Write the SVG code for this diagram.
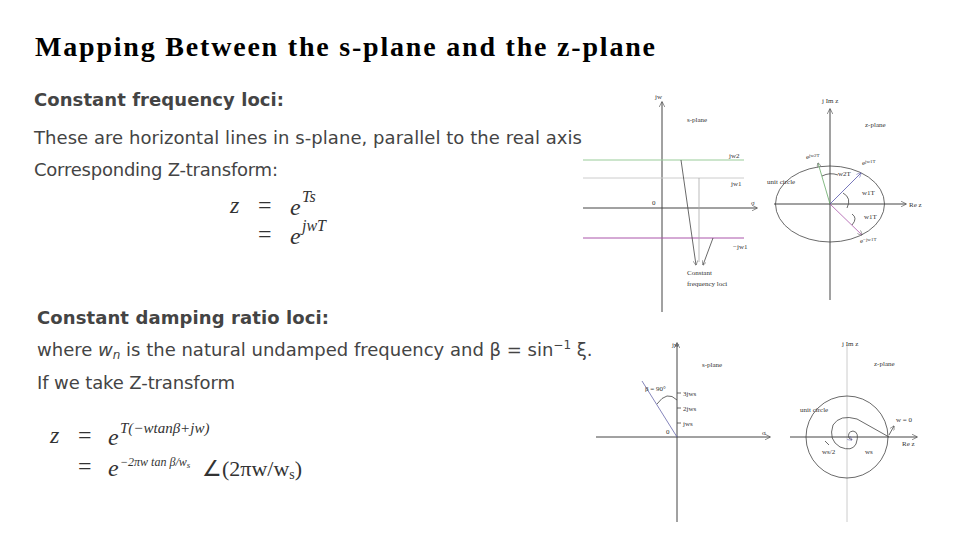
<svg xmlns="http://www.w3.org/2000/svg" width="960" height="540" viewBox="0 0 960 540">
<style>
.t{font-family:"Liberation Serif",serif;font-weight:bold;font-size:28px;fill:#000}
.h{font-family:"DejaVu Sans","Liberation Sans",sans-serif;font-weight:bold;font-size:18px;fill:#444}
.b{font-family:"DejaVu Sans","Liberation Sans",sans-serif;font-size:18px;fill:#444}
.m{font-family:"Liberation Serif",serif;font-size:24px;fill:#333}
.mi{font-family:"Liberation Serif",serif;font-style:italic;font-size:24px;fill:#333}
.s{font-family:"Liberation Serif",serif;font-size:7px;fill:#333}
.ax{stroke:#444;stroke-width:1;fill:none}
.ln{stroke:#444;stroke-width:0.8;fill:none}
</style>
<defs>
<marker id="a" viewBox="0 0 10 10" refX="9" refY="5" markerWidth="6" markerHeight="6" orient="auto"><path d="M0,0L10,5L0,10" fill="none" stroke="#444"/></marker>
<marker id="ab" viewBox="0 0 10 10" refX="9" refY="5" markerWidth="6" markerHeight="6" orient="auto"><path d="M0,0L10,5L0,10" fill="none" stroke="#55a"/></marker>
</defs>
<rect width="960" height="540" fill="#fff"/>
<text class="t" x="35" y="56" textLength="620">Mapping Between the s-plane and the z-plane</text>

<text class="h" x="34" y="106" textLength="250">Constant frequency loci:</text>
<text class="b" x="34" y="144" textLength="548">These are horizontal lines in s-plane, parallel to the real axis</text>
<text class="b" x="34" y="176" textLength="244">Corresponding Z-transform:</text>
<text class="mi" x="230" y="213">z</text><text class="m" x="258" y="213">=</text>
<text class="mi" x="290" y="215">e</text><text class="mi" x="302" y="202" style="font-size:16px">Ts</text>
<text class="m" x="258" y="242">=</text>
<text class="mi" x="290" y="244">e</text><text class="mi" x="302" y="231" style="font-size:16px">jwT</text>

<text class="h" x="37" y="324" textLength="292">Constant damping ratio loci:</text>
<text class="b" x="37" y="356">where <tspan font-style="italic">w<tspan style="font-size:12px" dy="3">n</tspan></tspan><tspan dy="-3"> is the natural undamped frequency and β = sin</tspan><tspan style="font-size:12px" dy="-7">−1</tspan><tspan dy="7"> ξ.</tspan></text>
<text class="b" x="37" y="389" textLength="198">If we take Z-transform</text>
<text class="mi" x="50" y="443">z</text><text class="m" x="78" y="443">=</text>
<text class="mi" x="108" y="445">e</text><text class="mi" x="120" y="433" style="font-size:15px">T(−wtanβ+jw)</text>
<text class="m" x="78" y="474">=</text>
<text class="mi" x="108" y="476">e</text><text class="mi" x="120" y="466" style="font-size:12px">−2πw tan β/w<tspan style="font-size:9px" dy="2">s</tspan></text>
<text class="m" x="202" y="476" style="font-size:22px">∠(2πw/w<tspan style="font-size:14px" dy="3">s</tspan><tspan dy="-3">)</tspan></text>

<g id="top-s">
<line class="ax" x1="662" y1="312" x2="662" y2="102" marker-end="url(#a)"/>
<line class="ax" x1="583" y1="208" x2="757" y2="208" marker-end="url(#a)"/>
<line x1="583" y1="160" x2="744" y2="160" stroke="#9c9" stroke-width="1"/>
<line x1="583" y1="178" x2="744" y2="178" stroke="#ccc" stroke-width="1"/>
<line x1="583" y1="238" x2="744" y2="238" stroke="#a5a" stroke-width="1"/>
<line class="ln" x1="681" y1="160" x2="696" y2="265" marker-end="url(#a)"/>
<line x1="699" y1="178" x2="699" y2="262" stroke="#aaa" stroke-width="0.8"/>
<line class="ln" x1="713" y1="238" x2="703" y2="265" marker-end="url(#a)"/>
<text class="s" x="655" y="99">jw</text>
<text class="s" x="687" y="122">s-plane</text>
<text class="s" x="729" y="158" fill="#6a6">jw2</text>
<text class="s" x="731" y="186" fill="#559">jw1</text>
<text class="s" x="652" y="205">0</text>
<text class="s" x="751" y="205">σ</text>
<text class="s" x="733" y="249" fill="#a5a">−jw1</text>
<text class="s" x="687" y="275">Constant</text>
<text class="s" x="687" y="286">frequency loci</text>
</g>

<g id="top-z">
<line class="ax" x1="830" y1="300" x2="830" y2="109" marker-end="url(#a)"/>
<line class="ax" x1="774" y1="204" x2="906" y2="204" marker-end="url(#a)"/>
<ellipse class="ln" cx="830" cy="204" rx="54.5" ry="38"/>
<line x1="830" y1="204" x2="818" y2="163" stroke="#6a6" stroke-width="0.8" marker-end="url(#a)"/>
<line x1="830" y1="204" x2="861" y2="173" stroke="#55a" stroke-width="0.8" marker-end="url(#ab)"/>
<line x1="830" y1="204" x2="862" y2="235" stroke="#a5a" stroke-width="0.8" marker-end="url(#a)"/>
<path class="ln" d="M822,176 Q830,172 838,175"/>
<path class="ln" d="M843,193 Q852,198 847,208"/>
<path class="ln" d="M852,214 Q858,218 852,225"/>
<text class="s" x="822" y="103">j Im z</text>
<text class="s" x="865" y="127">z-plane</text>
<text class="s" x="909" y="207">Re z</text>
<text class="s" x="767" y="184">unit circle</text>
<text class="s" x="806" y="159" fill="#6a6">e<tspan style="font-size:5px" dy="-2">jw2T</tspan></text>
<text class="s" x="862" y="165" fill="#559">e<tspan style="font-size:5px" dy="-2">jw1T</tspan></text>
<text class="s" x="860" y="243" fill="#a5a">e<tspan style="font-size:5px" dy="-2">−jw1T</tspan></text>
<text class="s" x="838" y="176">w2T</text>
<text class="s" x="862" y="195">w1T</text>
<text class="s" x="864" y="219">w1T</text>
</g>

<g id="bottom-s">
<line class="ax" x1="677" y1="522" x2="677" y2="343" marker-end="url(#a)"/>
<line class="ax" x1="596" y1="437" x2="770" y2="437" marker-end="url(#a)"/>
<line x1="677" y1="437" x2="642" y2="381" stroke="#66a" stroke-width="0.8"/>
<path class="ln" d="M657,404 Q667,390 677,400"/>
<line class="ln" x1="677" y1="393" x2="681" y2="393"/>
<line class="ln" x1="677" y1="408" x2="681" y2="408"/>
<line class="ln" x1="677" y1="423" x2="681" y2="423"/>
<text class="s" x="672" y="347">jw</text>
<text class="s" x="702" y="367">s-plane</text>
<text class="s" x="645" y="391">β = 90°</text>
<text class="s" x="683" y="396">3jws</text>
<text class="s" x="683" y="411">2jws</text>
<text class="s" x="683" y="426">jws</text>
<text class="s" x="666" y="434">0</text>
<text class="s" x="762" y="435">σ</text>
</g>

<g id="bottom-z">
<line x1="847" y1="522" x2="847" y2="345" stroke="#ccc" stroke-width="1"/>
<line class="ax" x1="790" y1="437" x2="917" y2="437" marker-end="url(#a)"/>
<circle class="ln" cx="847" cy="437" r="41"/>
<path class="ln" d="M889,437 L857,419 Q840,414 833,425 Q828,440 840,447 Q852,452 856,444 Q860,432 853,431 Q847,432 849,438 L852,440" marker-end="url(#ab)"/>
<line class="ln" x1="889" y1="435" x2="894" y2="426" marker-end="url(#a)"/>
<line class="ln" x1="829" y1="445" x2="825" y2="441"/>
<text class="s" x="842" y="346">j Im z</text>
<text class="s" x="874" y="366">z-plane</text>
<text class="s" x="800" y="412">unit circle</text>
<text class="s" x="896" y="422">w = 0</text>
<text class="s" x="902" y="446">Re z</text>
<text class="s" x="822" y="454">ws/2</text>
<text class="s" x="865" y="454">ws</text>
</g>
</svg>
